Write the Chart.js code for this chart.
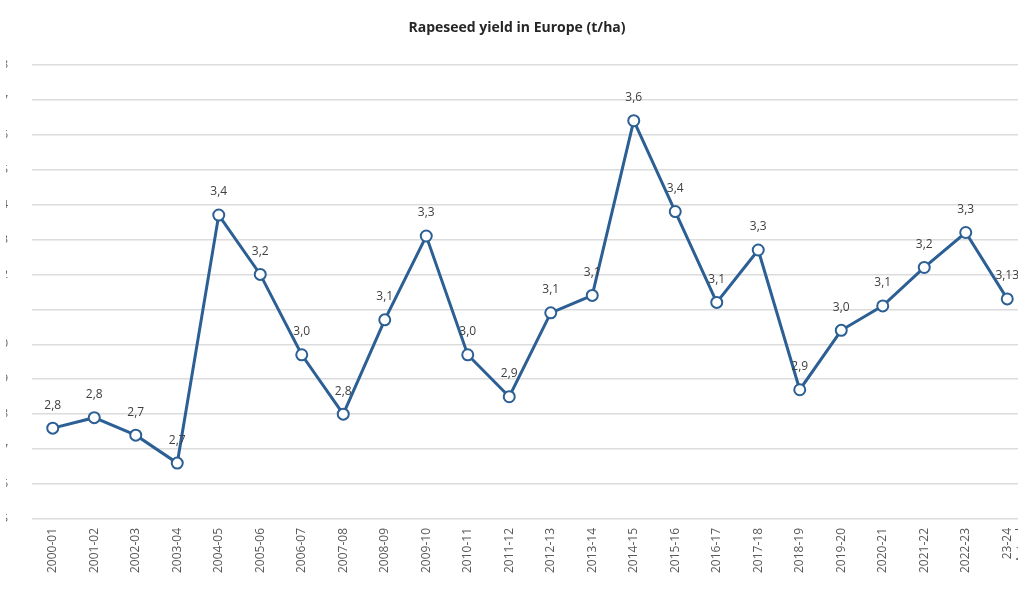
<!DOCTYPE html>
<html>
<head>
<meta charset="utf-8">
<script src="https://cdn.jsdelivr.net/npm/chart.js@4/dist/chart.umd.min.js"></script>
<style>
  html, body { margin: 0; padding: 0; background: #fff; overflow: hidden; }
  #wrap { position: absolute; left: -40px; top: 0; width: 1090px; height: 591px; }
</style>
</head>
<body>
<div id="wrap"><canvas id="myChart"></canvas></div>
<script>
// seasons on the x axis
const seasons = ["2000-01", "2001-02", "2002-03", "2003-04", "2004-05", "2005-06", "2006-07", "2007-08",
  "2008-09", "2009-10", "2010-11", "2011-12", "2012-13", "2013-14", "2014-15", "2015-16", "2016-17",
  "2017-18", "2018-19", "2019-20", "2020-21", "2021-22", "2022-23", ["23-24", "Actual"]];

// yield, t/ha
const yields = [2.76, 2.79, 2.74, 2.66, 3.37, 3.20, 2.97, 2.80, 3.07, 3.31, 2.97, 2.85, 3.09, 3.14,
  3.64, 3.38, 3.12, 3.27, 2.87, 3.04, 3.11, 3.22, 3.32, 3.13];

// value labels as printed on the chart
const valueLabels = ["2,8", "2,8", "2,7", "2,7", "3,4", "3,2", "3,0", "2,8", "3,1", "3,3", "3,0", "2,9",
  "3,1", "3,1", "3,6", "3,4", "3,1", "3,3", "2,9", "3,0", "3,1", "3,2", "3,3", "3,13"];

const lineColor = "#2c5f94";

// draws the value labels above each point
const pointLabels = {
  id: "pointLabels",
  afterDatasetsDraw(chart) {
    const ctx = chart.ctx;
    const meta = chart.getDatasetMeta(0);
    ctx.save();
    ctx.font = "12px 'Open Sans', sans-serif";
    ctx.fillStyle = "#404040";
    ctx.textAlign = "center";
    ctx.textBaseline = "middle";
    meta.data.forEach((pt, i) => {
      ctx.fillText(valueLabels[i], pt.x, pt.y - 23);
    });
    ctx.restore();
  }
};

new Chart(document.getElementById("myChart"), {
  type: "line",
  data: {
    labels: seasons,
    datasets: [
      {
        label: "Rapeseed yield",
        data: yields,
        borderColor: lineColor,
        borderWidth: 3,
        pointRadius: 5.5,
        pointBorderWidth: 2,
        pointBackgroundColor: "#ffffff",
        pointBorderColor: lineColor,
        tension: 0
      }
    ]
  },
  plugins: [pointLabels],
  options: {
    responsive: true,
    maintainAspectRatio: false,
    animation: false,
    layout: { padding: { left: 46, right: 22, top: 0, bottom: 0 } },
    scales: {
      x: {
        offset: true,
        afterFit: (axis) => { axis.height = 72; },
        grid: { display: false, drawTicks: false },
        border: { display: false },
        ticks: {
          minRotation: 90,
          maxRotation: 90,
          autoSkip: false,
          padding: 9,
          color: "#595959",
          font: { family: "'Open Sans', sans-serif", size: 12 }
        }
      },
      y: {
        min: 2.5,
        max: 3.8,
        afterFit: (axis) => { axis.width = 26; },
        grid: { color: "#dcdcdc", lineWidth: 1.5, drawTicks: false },
        border: { display: false },
        ticks: {
          stepSize: 0.1,
          padding: 24,
          color: "#595959",
          font: { family: "'Open Sans', sans-serif", size: 11 },
          callback: (v) => v.toFixed(1).replace(".", ",")
        }
      }
    },
    plugins: {
      legend: { display: false },
      tooltip: { enabled: false },
      title: {
        display: true,
        text: "Rapeseed yield in Europe (t/ha)",
        color: "#262626",
        font: { family: "'Open Sans', sans-serif", size: 14, weight: "bold" },
        padding: { top: 20, bottom: 28 }
      }
    }
  }
});
</script>
</body>
</html>
